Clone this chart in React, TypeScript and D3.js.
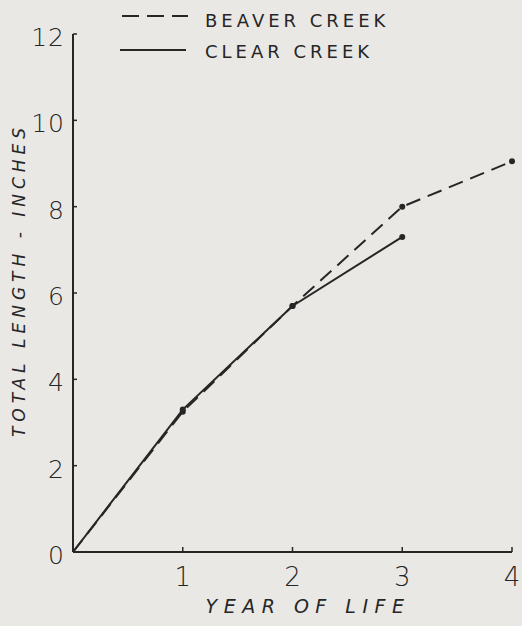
import React from "react";
import * as d3 from "d3";

const years = [0, 1, 2, 3, 4];
const beaverCreek = [0, 3.25, 5.7, 8.0, 9.05];
const clearCreek = [0, 3.3, 5.7, 7.3];
const yTicks = [0, 2, 4, 6, 8, 10, 12];
const xTicks = [1, 2, 3, 4];
const seriesNames = ["BEAVER CREEK", "CLEAR CREEK"];

const W = 522;
const H = 626;
const ink = "#262626";
const paper = "#e9e8e5";

const App = () => {
  const x = d3.scaleLinear().domain([0, 4]).range([73, 512]);
  const y = d3.scaleLinear().domain([0, 12]).range([552, 34]);

  const line = d3
    .line<number>()
    .x((d, i) => x(years[i]))
    .y(d => y(d));

  const font = "'DejaVu Sans', sans-serif";

  return (
    <svg width={W} height={H} style={{ position: "absolute", left: 0, top: 0 }}>
      <rect width={W} height={H} fill={paper} />

      {/* axes */}
      <line x1={x(0)} x2={x(0)} y1={y(0)} y2={y(12)} stroke={ink} strokeWidth={2} />
      <line x1={x(0)} x2={x(4)} y1={y(0)} y2={y(0)} stroke={ink} strokeWidth={2} />
      {yTicks.filter(t => t > 0).map(t => (
        <line key={t} x1={x(0)} x2={x(0) + 4} y1={y(t)} y2={y(t)} stroke={ink} strokeWidth={1.5} />
      ))}
      {xTicks.map(t => (
        <line key={t} x1={x(t)} x2={x(t)} y1={y(0)} y2={y(0) - 5} stroke={ink} strokeWidth={1.5} />
      ))}

      {/* tick labels */}
      {yTicks.map(t => (
        <text
          key={t}
          x={x(0) - 8}
          y={y(t) + 12}
          textAnchor="end"
          fontFamily={font}
          fontWeight={300}
          fontSize={25}
          fill={ink}
          letterSpacing={1}
        >
          {t}
        </text>
      ))}
      {xTicks.map(t => (
        <text
          key={t}
          x={x(t)}
          y={586}
          textAnchor="middle"
          fontFamily={font}
          fontWeight={300}
          fontSize={26}
          fill={ink}
        >
          {t}
        </text>
      ))}

      {/* axis titles */}
      <text
        x={308}
        y={613}
        textAnchor="middle"
        fontFamily={font}
        fontStyle="italic"
        fontSize={19}
        letterSpacing={6.5}
        fill={ink}
      >
        YEAR OF LIFE
      </text>
      <text
        transform={`translate(25, ${280}) rotate(-90)`}
        textAnchor="middle"
        fontFamily={font}
        fontStyle="italic"
        fontSize={17}
        letterSpacing={5}
        fill={ink}
      >
        TOTAL LENGTH - INCHES
      </text>

      {/* series */}
      <path d={line(clearCreek) || ""} fill="none" stroke={ink} strokeWidth={2} />
      <path
        d={line(beaverCreek) || ""}
        fill="none"
        stroke={ink}
        strokeWidth={2}
        strokeDasharray="15,8"
      />
      {beaverCreek.slice(1).map((v, i) => (
        <circle key={"b" + i} cx={x(years[i + 1])} cy={y(v)} r={3} fill={ink} />
      ))}
      {clearCreek.slice(1).map((v, i) => (
        <circle key={"c" + i} cx={x(years[i + 1])} cy={y(v)} r={3} fill={ink} />
      ))}

      {/* legend */}
      <line x1={122} x2={188} y1={16} y2={16} stroke={ink} strokeWidth={2} strokeDasharray="17,8" />
      <line x1={120} x2={186} y1={50} y2={50} stroke={ink} strokeWidth={2} />
      <text x={205} y={27} fontFamily={font} fontSize={18} letterSpacing={4} fill={ink}>
        {seriesNames[0]}
      </text>
      <text x={205} y={58} fontFamily={font} fontSize={18} letterSpacing={4} fill={ink}>
        {seriesNames[1]}
      </text>
    </svg>
  );
};

export default App;
